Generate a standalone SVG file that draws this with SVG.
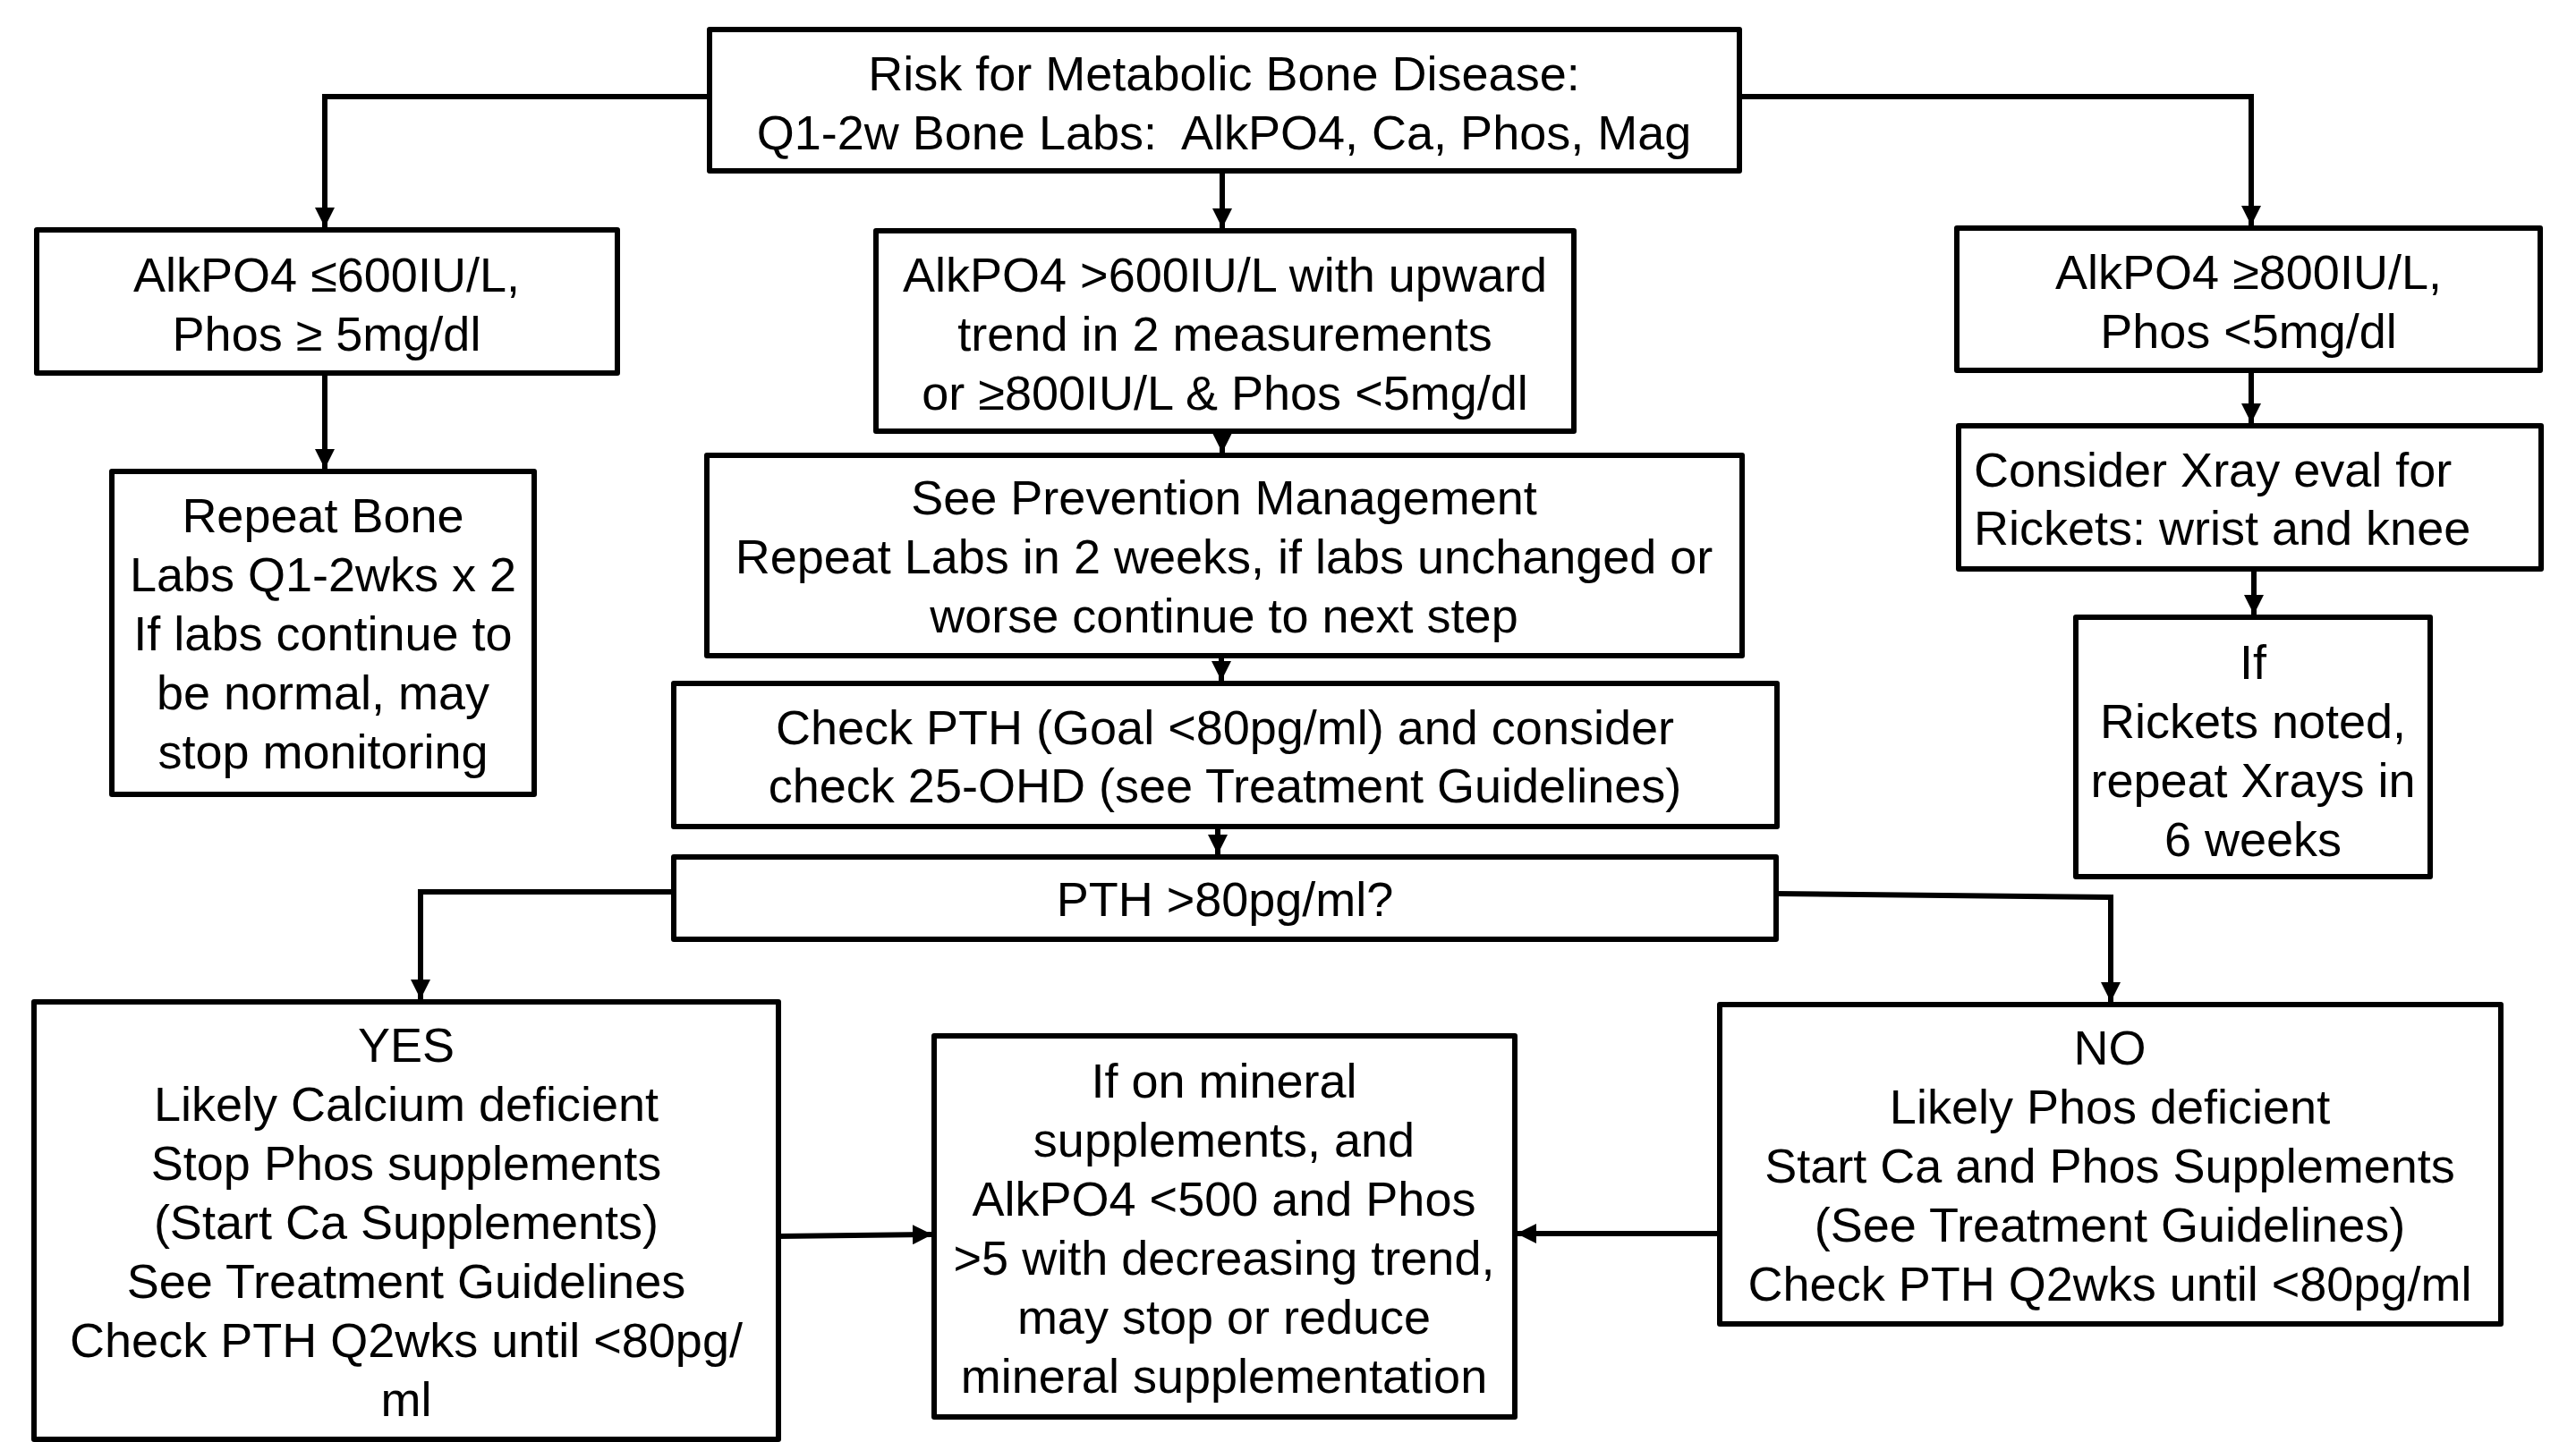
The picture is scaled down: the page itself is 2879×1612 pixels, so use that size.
<svg xmlns="http://www.w3.org/2000/svg" width="2879" height="1612" viewBox="0 0 2879 1612">
<style>
.box{fill:#fff;stroke:#000;stroke-width:6;stroke-linejoin:round}
.t{font-family:"Liberation Sans",Arial,Helvetica,sans-serif;font-size:54px;fill:#000;text-anchor:middle}
.tl{text-anchor:start}
.c{fill:none;stroke:#000;stroke-width:6;marker-end:url(#ah)}
</style>
<defs>
<marker id="ah" markerUnits="userSpaceOnUse" markerWidth="22" markerHeight="22" refX="22" refY="11" orient="auto">
<path d="M0,0 L22,11 L0,22 Z" fill="#000"/>
</marker>
</defs>
<rect width="2879" height="1612" fill="#fff"/>
<g id="connectors">
<polyline class="c" points="793,108 363,108 363,254"/>
<polyline class="c" points="1366,188 1366,255"/>
<polyline class="c" points="1944,108 2516,108 2516,252"/>
<polyline class="c" points="363,408 363,524"/>
<polyline class="c" points="1366,473 1366,506"/>
<polyline class="c" points="1365,727 1365,761"/>
<polyline class="c" points="1361,917 1361,955"/>
<polyline class="c" points="2516,415 2516,473"/>
<polyline class="c" points="2519,636 2519,687"/>
<polyline class="c" points="753,997 470,997 470,1117"/>
<polyline class="c" points="1985,999 2359,1003 2359,1120"/>
<polyline class="c" points="870,1382 1042,1380"/>
<polyline class="c" points="1922,1379 1695,1379"/>
</g>
<g id="n-risk">
<rect class="box" x="793" y="33" width="1151" height="158"/>
<text class="t" x="1368" y="101">Risk for Metabolic Bone Disease:</text>
<text class="t" x="1368" y="167" xml:space="preserve">Q1-2w Bone Labs:  AlkPO4, Ca, Phos, Mag</text>
</g>
<g id="n-low">
<rect class="box" x="41" y="257" width="649" height="160"/>
<text class="t" x="365" y="326">AlkPO4 ≤600IU/L,</text>
<text class="t" x="365" y="392">Phos ≥ 5mg/dl</text>
</g>
<g id="n-mid">
<rect class="box" x="979" y="258" width="780" height="224"/>
<text class="t" x="1369" y="326">AlkPO4 &gt;600IU/L with upward</text>
<text class="t" x="1369" y="392">trend in 2 measurements</text>
<text class="t" x="1369" y="458">or ≥800IU/L &amp; Phos &lt;5mg/dl</text>
</g>
<g id="n-high">
<rect class="box" x="2187" y="255" width="652" height="159"/>
<text class="t" x="2513" y="323">AlkPO4 ≥800IU/L,</text>
<text class="t" x="2513" y="389">Phos &lt;5mg/dl</text>
</g>
<g id="n-repeat">
<rect class="box" x="125" y="527" width="472" height="361"/>
<text class="t" x="361" y="595">Repeat Bone</text>
<text class="t" x="361" y="661">Labs Q1-2wks x 2</text>
<text class="t" x="361" y="727">If labs continue to</text>
<text class="t" x="361" y="793">be normal, may</text>
<text class="t" x="361" y="859">stop monitoring</text>
</g>
<g id="n-prevention">
<rect class="box" x="790" y="509" width="1157" height="224"/>
<text class="t" x="1368" y="575">See Prevention Management</text>
<text class="t" x="1368" y="641">Repeat Labs in 2 weeks, if labs unchanged or</text>
<text class="t" x="1368" y="707">worse continue to next step</text>
</g>
<g id="n-xray">
<rect class="box" x="2189" y="476" width="651" height="160"/>
<text class="t tl" x="2206" y="544">Consider Xray eval for</text>
<text class="t tl" x="2206" y="609">Rickets: wrist and knee</text>
</g>
<g id="n-rickets">
<rect class="box" x="2320" y="690" width="396" height="290"/>
<text class="t" x="2518" y="759">If</text>
<text class="t" x="2518" y="825">Rickets noted,</text>
<text class="t" x="2518" y="891">repeat Xrays in</text>
<text class="t" x="2518" y="957">6 weeks</text>
</g>
<g id="n-checkpth">
<rect class="box" x="753" y="764" width="1233" height="160"/>
<text class="t" x="1369" y="832">Check PTH (Goal &lt;80pg/ml) and consider</text>
<text class="t" x="1369" y="897">check 25-OHD (see Treatment Guidelines)</text>
</g>
<g id="n-pthq">
<rect class="box" x="753" y="958" width="1232" height="92"/>
<text class="t" x="1369" y="1024">PTH &gt;80pg/ml?</text>
</g>
<g id="n-yes">
<rect class="box" x="38" y="1120" width="832" height="489"/>
<text class="t" x="454" y="1187">YES</text>
<text class="t" x="454" y="1253">Likely Calcium deficient</text>
<text class="t" x="454" y="1319">Stop Phos supplements</text>
<text class="t" x="454" y="1385">(Start Ca Supplements)</text>
<text class="t" x="454" y="1451">See Treatment Guidelines</text>
<text class="t" x="454" y="1517">Check PTH Q2wks until &lt;80pg/</text>
<text class="t" x="454" y="1583">ml</text>
</g>
<g id="n-mineral">
<rect class="box" x="1044" y="1158" width="649" height="426"/>
<text class="t" x="1368" y="1227">If on mineral</text>
<text class="t" x="1368" y="1293">supplements, and</text>
<text class="t" x="1368" y="1359">AlkPO4 &lt;500 and Phos</text>
<text class="t" x="1368" y="1425">&gt;5 with decreasing trend,</text>
<text class="t" x="1368" y="1491">may stop or reduce</text>
<text class="t" x="1368" y="1557">mineral supplementation</text>
</g>
<g id="n-no">
<rect class="box" x="1922" y="1123" width="873" height="357"/>
<text class="t" x="2358" y="1190">NO</text>
<text class="t" x="2358" y="1256">Likely Phos deficient</text>
<text class="t" x="2358" y="1322">Start Ca and Phos Supplements</text>
<text class="t" x="2358" y="1388">(See Treatment Guidelines)</text>
<text class="t" x="2358" y="1454">Check PTH Q2wks until &lt;80pg/ml</text>
</g>
</svg>
